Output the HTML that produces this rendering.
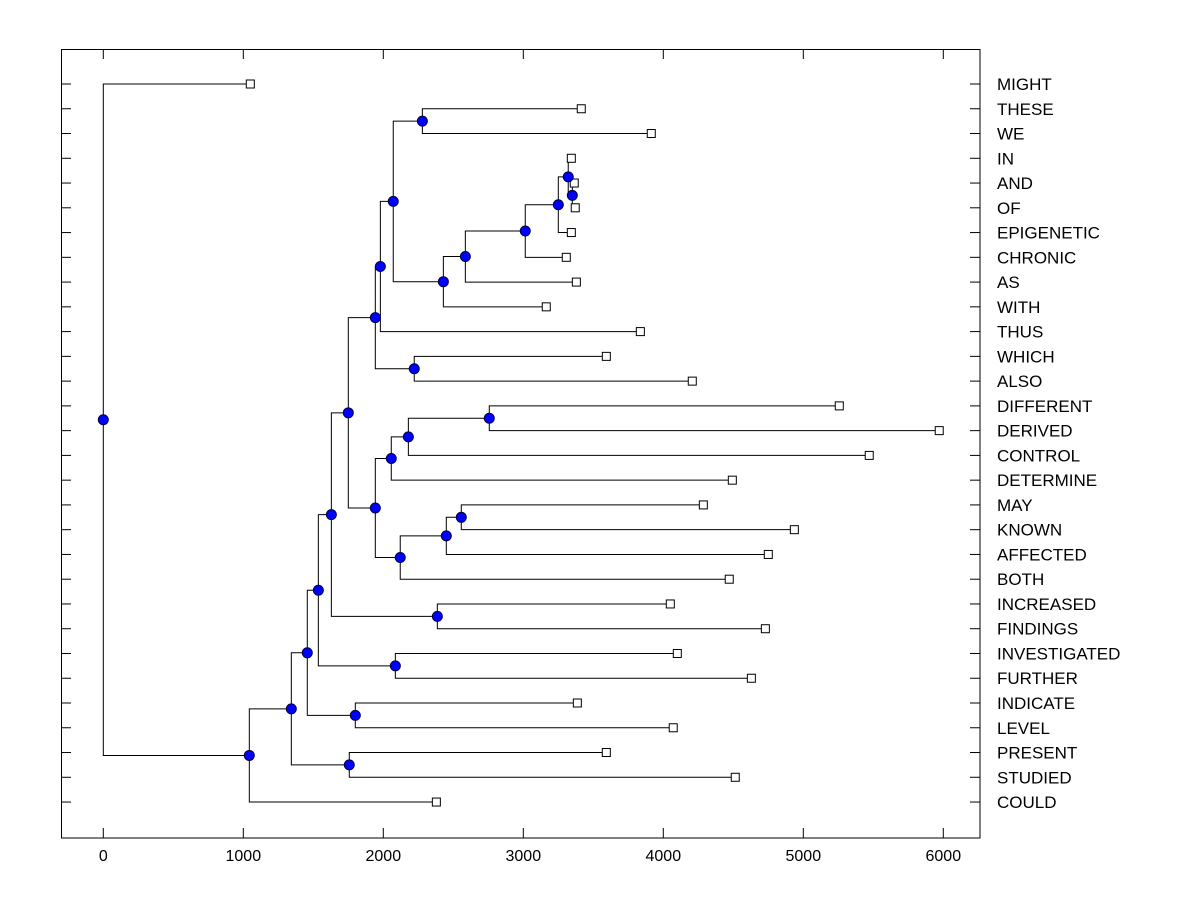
<!DOCTYPE html>
<html><head><meta charset="utf-8"><style>
html,body{margin:0;padding:0;background:#fff;}
svg{display:block;font-family:"Liberation Sans",Arial,sans-serif;}
</style></head><body>
<svg id="chart" width="1200" height="900">
<rect x="61.5" y="49.5" width="918.5" height="788.5" fill="none" stroke="#000"/>
<g id="ticks"></g>
<g id="links"></g>
<g id="marks"></g>
</svg>
<script>
const leafLabels = ["MIGHT","THESE","WE","IN","AND","OF","EPIGENETIC","CHRONIC","AS","WITH","THUS","WHICH","ALSO","DIFFERENT","DERIVED","CONTROL","DETERMINE","MAY","KNOWN","AFFECTED","BOTH","INCREASED","FINDINGS","INVESTIGATED","FURTHER","INDICATE","LEVEL","PRESENT","STUDIED","COULD"];
const leafValues = [1050,3414,3914,3343,3364,3371,3343,3307,3379,3164,3836,3593,4207,5257,5971,5471,4493,4286,4936,4750,4471,4050,4729,4100,4629,3386,4071,3593,4514,2379];
// merges in order: node N<i> joins mergeA[i] and mergeB[i] at height mergeH[i]
const mergeA = ["L4","L3","N1","N2","N3","N4","L1","N6","N7","L11","N8","L13","N11","N12","L17","N14","N15","N13","N10","L21","N18","L23","N20","L25","N22","L27","N24","N26"];
const mergeB = ["L5","N0","L6","L7","L8","L9","L2","N5","L10","L12","N9","L14","L15","L16","L18","L19","L20","N16","N17","L22","N19","L24","N21","L26","N23","L28","N25","L29"];
const mergeH = [3350,3321,3250,3014,2586,2429,2279,2071,1979,2221,1943,2757,2179,2057,2557,2450,2121,1943,1750,2386,1629,2086,1536,1800,1457,1757,1343,1043];
const rootChildren = ["L0","N27"];
const xTicks = [0,1000,2000,3000,4000,5000,6000];
const NS="http://www.w3.org/2000/svg";
const X0=103.3, PX=0.14;
function xs(v){return X0+v*PX;}
const Y0=84, DY=24.76;
function ys(i){return Y0+i*DY;}
const ticksG=document.getElementById('ticks'),linksG=document.getElementById('links'),marksG=document.getElementById('marks');
function mk(tag,attrs,parent){const e=document.createElementNS(NS,tag);for(const k in attrs)e.setAttribute(k,attrs[k]);parent.appendChild(e);return e;}
xTicks.forEach(t=>{
  const x=xs(t);
  const a=mk('line',{x1:x,x2:x,y1:838,y2:828,stroke:'#000'},ticksG);
  
  
  const b=mk('line',{x1:x,x2:x,y1:49.5,y2:59,stroke:'#000'},ticksG);
  
  
  const tx=mk('text',{x:x,y:861,'font-size':16,'text-anchor':'middle'},ticksG);
  tx.textContent=t;
  
  
});
leafLabels.forEach((l,i)=>{
  const y=ys(i);
  const a=mk('line',{x1:61.5,x2:71,y1:y,y2:y,stroke:'#000'},ticksG);
  
  
  const b=mk('line',{x1:980,x2:970,y1:y,y2:y,stroke:'#000'},ticksG);
  
  
  const tx=mk('text',{x:997,y:y+6,'font-size':17},ticksG);
  tx.textContent=l;
  
  
});
const pos={};
leafValues.forEach((v,i)=>{pos['L'+i]={x:xs(v),y:ys(i)};});
function drawMerge(name,a,b,h){
  const pa=pos[a],pb=pos[b];const x=xs(h);
  pos[name]={x:x,y:(pa.y+pb.y)/2};
  const p=mk('path',{d:`M${pa.x},${pa.y}H${x}V${pb.y}H${pb.x}`,fill:'none',stroke:'#000','stroke-width':1},linksG);
  
  
}
mergeA.forEach((a,i)=>drawMerge('N'+i,a,mergeB[i],mergeH[i]));
drawMerge('ROOT',rootChildren[0],rootChildren[1],0);
leafValues.forEach((v,i)=>{
  const r=mk('rect',{x:xs(v)-4,y:ys(i)-4,width:8,height:8,fill:'#fff',stroke:'#000'},marksG);
  
  
});
Object.keys(pos).filter(k=>k[0]!=='L').forEach(n=>{
  const c=mk('circle',{cx:pos[n].x,cy:pos[n].y,r:5,fill:'#0000ff',stroke:'#000040','stroke-width':1},marksG);
  
  
});
</script>
</body></html>
